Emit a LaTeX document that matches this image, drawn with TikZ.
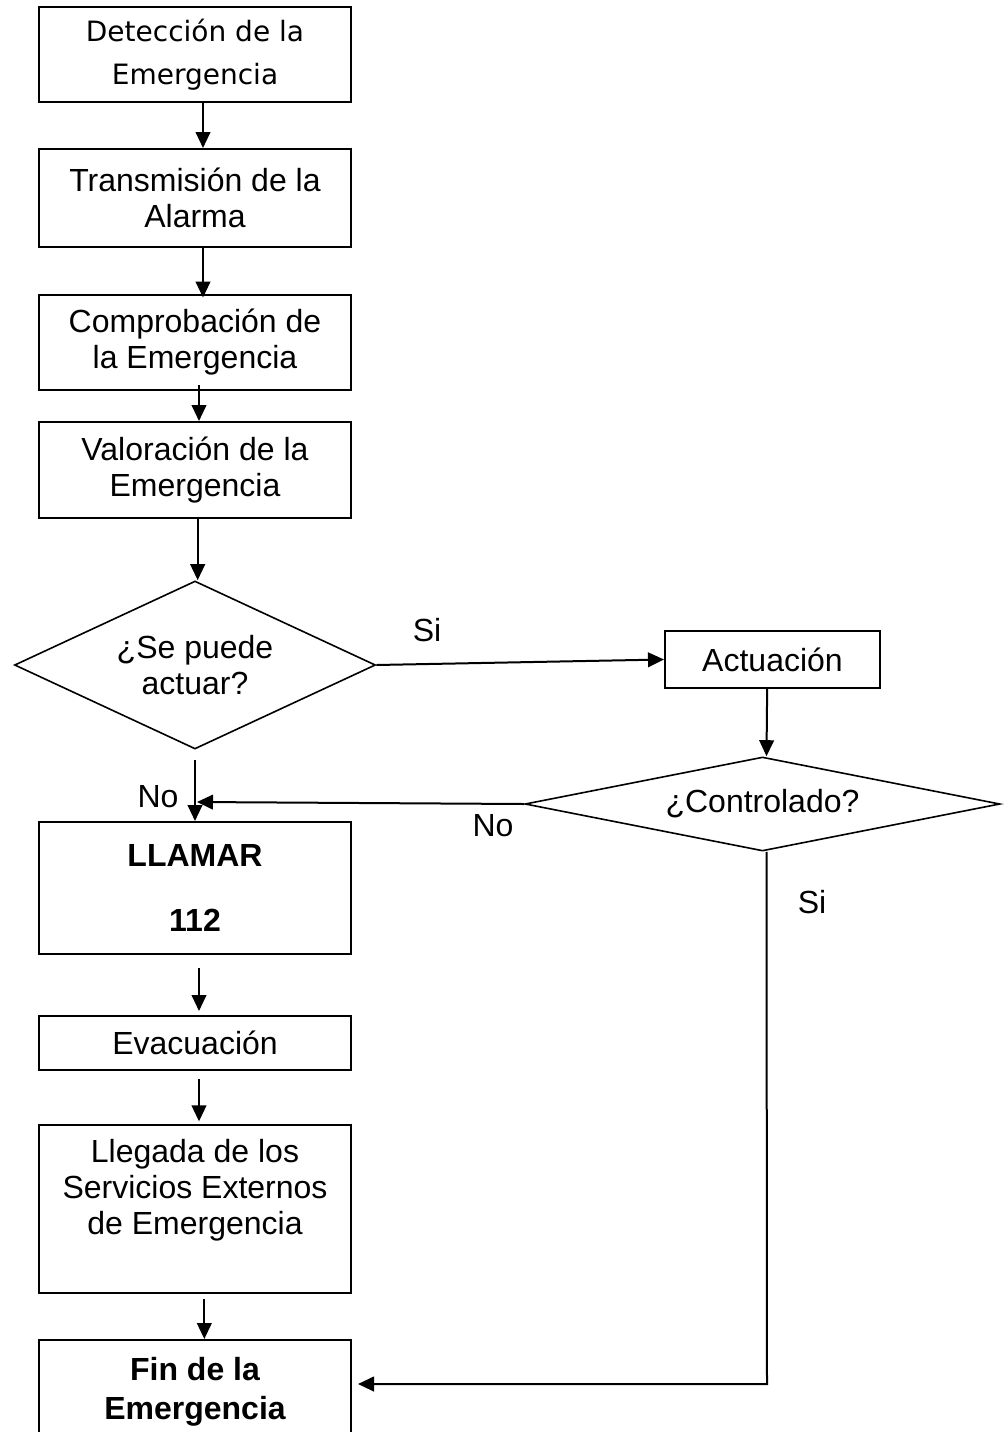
\documentclass[tikz,border=0pt]{standalone}
\usepackage{fontspec}
\setmainfont{Liberation Sans}
\newfontfamily\tahfont{DejaVu Sans}
\usetikzlibrary{shapes.geometric,arrows.meta}

\begin{document}
\begin{tikzpicture}[x=0.75pt,y=-0.75pt,font=\fontsize{24}{27}\selectfont]
  \tikzstyle{box}=[draw,line width=1.5pt,minimum width=234pt,inner sep=2pt,align=center]
  \tikzstyle{decision}=[draw,diamond,line width=1.2pt,inner sep=0pt,align=center]
  \tikzstyle{arr}=[line width=1.5pt,-{Triangle[width=11pt,length=12pt]}]
  \useasboundingbox (0,0) rectangle (1005,1432);

  \node[box,minimum height=71.25pt,font=\tahfont\fontsize{21}{32}\selectfont] (det) at (195,54.5) {Detección de la\\Emergencia};
  \node[box,minimum height=73.5pt] (trans) at (195,198) {Transmisión de la\\Alarma};
  \node[box,minimum height=71.25pt,line width=2.2pt] (comp) at (195,342.5) {Comprobación de\\la Emergencia};
  \node[box,minimum height=72pt] (valor) at (195,470) {Valoración de la\\Emergencia};

  \node[decision,aspect=2.15,minimum width=270.75pt,minimum height=126pt] (puede) at (195,665) {¿Se puede\\actuar?};
  \node[box,minimum width=161.25pt,minimum height=42.75pt] (actua) at (772.5,659.5) {Actuación};
  \node[decision,aspect=5,minimum width=356.25pt,minimum height=70.5pt] (contr) at (762.5,804) {¿Controlado?};

  \node[box,minimum height=99pt,font=\bfseries\fontsize{24}{27}\selectfont] (llamar) at (195,888) {LLAMAR\\[21.75pt]112};
  \node[box,minimum height=40.5pt] (evac) at (195,1043) {Evacuación};
  \node[box,minimum height=126pt,label={[yshift=14pt,align=center]center:Llegada de los\\Servicios Externos\\de Emergencia}] (lleg) at (195,1209) {};
  \node[box,minimum height=78pt,font=\bfseries\fontsize{24}{29}\selectfont] (fin) at (195,1392) {Fin de la\\Emergencia};

  \node (si1) at (427,630) {Si};
  \node (no1) at (158,797) {No};
  \node (no2) at (493,826) {No};
  \node (si2) at (812,902) {Si};

  \coordinate (cruce) at (197,802);
  \coordinate (esq) at (767,1384);
  \coordinate (fend) at (358,1384);

  \draw[arr] ([xshift=6pt]det.south) -- ([xshift=6pt]trans.north);
  \draw[arr] ([xshift=6pt]trans.south) -- ([xshift=6pt,yshift=-3pt]comp.north);
  \draw[arr] ([xshift=3pt,yshift=5pt]comp.south) -- ([xshift=3pt]valor.north);
  \draw[arr] ([xshift=2pt]valor.south) -- ([xshift=2pt]puede.north);
  \draw[arr] (puede.east) -- (actua.west);
  \draw[arr] ([xshift=-4pt]actua.south) -- ([xshift=3pt]contr.north);
  \draw[arr] (contr.west) -- (cruce);
  \draw[arr] ([yshift=-8pt]puede.south) -- (llamar.north);
  \draw[arr] ([xshift=3pt,yshift=-10pt]llamar.south) -- ([xshift=3pt,yshift=3pt]evac.north);
  \draw[arr] ([xshift=3pt,yshift=-6pt]evac.south) -- ([xshift=3pt,yshift=2pt]lleg.north);
  \draw[arr] ([xshift=7pt,yshift=-4pt]lleg.south) -- ([xshift=7pt]fin.north);
  \draw[arr] ([xshift=3pt]contr.south) -- (esq) -- (fend);
\end{tikzpicture}
\end{document}
